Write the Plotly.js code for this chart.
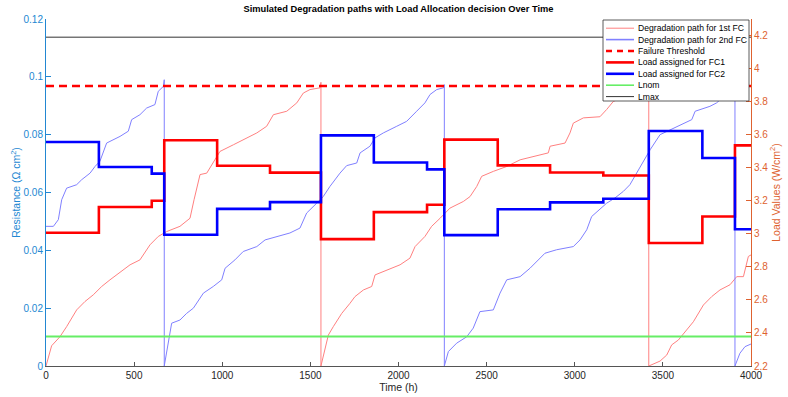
<!DOCTYPE html>
<html>
<head>
<meta charset="utf-8">
<script src="https://cdn.plot.ly/plotly-3.0.1.min.js"></script>
<style>html,body{margin:0;padding:0;background:#fff;}#chart{width:788px;height:397px;}</style>
</head>
<body>
<div id="chart"></div>
<script>
// ---- Data ----
const deg1Time = [0,32,79,117,174,221,268,316,363,401,477,533,590,637,685,760,817,840,874,912,949,987,1063,1139,1196,1252,1290,1366,1423,1460,1498,1555,1560,1560,
  1602,1630,1678,1725,1753,1801,1848,1867,1933,2009,2065,2094,2150,2188,2236,2292,2368,2406,2444,2472,2538,2614,2690,2765,2850,2860,2945,2973,2992,3049,3143,3181,3219,3280,3350,3415,3420,3420,
  3484,3522,3550,3588,3626,3673,3730,3777,3824,3881,3919,3957,3985,4000];
const deg1Value = [0,0.0070,0.0101,0.0136,0.0194,0.0223,0.0246,0.0275,0.0298,0.0315,0.0350,0.0367,0.0419,0.0448,0.0465,0.0483,0.0511,0.0575,0.0662,0.0667,0.0702,0.0742,0.0765,0.0789,0.0806,0.0829,0.0869,0.0881,0.0910,0.0944,0.0956,0.0962,0.0981,0,
  0.0107,0.0136,0.0182,0.0217,0.0240,0.0263,0.0275,0.0315,0.0332,0.0350,0.0373,0.0413,0.0448,0.0483,0.0511,0.0546,0.0569,0.0586,0.0621,0.0656,0.0673,0.0690,0.0713,0.0725,0.0737,0.0760,0.0771,0.0806,0.0840,0.0858,0.0862,0.0887,0.0915,0.0930,0.0950,0.0964,0.0982,0,
  0.0017,0.0038,0.0073,0.0090,0.0119,0.0153,0.0211,0.0240,0.0263,0.0281,0.0309,0.0309,0.0379,0.0384];

const deg2Time = [0,42,70,89,117,174,202,250,278,306,344,420,467,486,533,571,618,637,666,671,671,
  713,760,798,836,893,949,997,1016,1072,1119,1196,1243,1318,1384,1441,1479,1536,1573,1611,1668,1706,1763,1782,1838,1867,1914,1990,2046,2103,2150,2179,2217,2255,2260,2260,
  2283,2330,2387,2424,2462,2538,2576,2614,2690,2746,2784,2831,2897,2992,3030,3068,3096,3153,3181,3228,3276,3313,3371,3428,3484,3560,3664,3683,3767,3805,3860,3905,3909,3909,
  3937,3966,4000];
const deg2Value = [0.0483,0.0483,0.0506,0.0575,0.0615,0.0627,0.0644,0.0667,0.0690,0.0708,0.0771,0.0794,0.0812,0.0852,0.0869,0.0892,0.0904,0.0950,0.0967,0.0990,0,
  0.0148,0.0159,0.0182,0.0200,0.0252,0.0275,0.0298,0.0338,0.0367,0.0396,0.0413,0.0436,0.0448,0.0460,0.0477,0.0529,0.0563,0.0586,0.0621,0.0667,0.0693,0.0702,0.0737,0.0760,0.0789,0.0806,0.0829,0.0846,0.0881,0.0910,0.0939,0.0956,0.0962,0.0973,0,
  0.0050,0.0079,0.0101,0.0131,0.0188,0.0194,0.0252,0.0298,0.0309,0.0338,0.0361,0.0390,0.0402,0.0413,0.0436,0.0471,0.0517,0.0546,0.0563,0.0581,0.0604,0.0627,0.0690,0.0748,0.0800,0.0823,0.0852,0.0881,0.0898,0.0910,0.0940,0.0965,0.0980,0,
  0.0044,0.0067,0.0076];

const loadTime = [0,300,600,671,971,1271,1560,1860,2162,2260,2563,2860,3162,3420,3724,3909,4000];
const loadFC1 = [3.006,3.162,3.200,3.566,3.412,3.370,2.968,3.131,3.176,3.570,3.414,3.371,3.353,2.944,3.105,3.535,3.535];
const loadFC2 = [3.556,3.404,3.364,2.994,3.151,3.192,3.596,3.432,3.390,2.992,3.149,3.190,3.212,3.622,3.459,3.028,3.028];

const timeRange = [0, 4000];
const failureThreshold = 0.0968;
const Lnom = 2.378;
const Lmax = 4.19;

const legendLabels = ['Degradation path for 1st FC','Degradation path for 2nd FC','Failure Threshold','Load assigned for FC1','Load assigned for FC2','Lnom','Lmax'];

// ---- Styles ----
const C_DEG1 = '#ff8080', C_DEG2 = '#8080ff', C_RED = '#ff0000', C_BLUE = '#0000ff', C_GREEN = '#66ee66', C_BLACK = '#333333';
const C_LEFT = '#2287d2', C_RIGHT = '#de6230';
const FONT = 'Arial, "Liberation Sans", Helvetica, sans-serif';

const traces = [
  {x: deg1Time, y: deg1Value, type:'scatter', mode:'lines', line:{color:C_DEG1, width:1}, yaxis:'y', name:legendLabels[0]},
  {x: deg2Time, y: deg2Value, type:'scatter', mode:'lines', line:{color:C_DEG2, width:1}, yaxis:'y', name:legendLabels[1]},
  {x: timeRange, y: [failureThreshold, failureThreshold], type:'scatter', mode:'lines', line:{color:C_RED, width:2.5, dash:'8px,5px'}, yaxis:'y', name:legendLabels[2]},
  {x: loadTime, y: loadFC1, type:'scatter', mode:'lines', line:{color:C_RED, width:2.6, shape:'hv'}, yaxis:'y2', name:legendLabels[3]},
  {x: loadTime, y: loadFC2, type:'scatter', mode:'lines', line:{color:C_BLUE, width:2.6, shape:'hv'}, yaxis:'y2', name:legendLabels[4]},
  {x: timeRange, y: [Lnom, Lnom], type:'scatter', mode:'lines', line:{color:C_GREEN, width:2}, yaxis:'y2', name:legendLabels[5]},
  {x: timeRange, y: [Lmax, Lmax], type:'scatter', mode:'lines', line:{color:C_BLACK, width:1}, yaxis:'y2', name:legendLabels[6]}
];

// ---- Manual legend (MATLAB-style compact box) ----
const PL = 46, PR = 751, PT = 19, PB = 366;
const px = v => (v - PL) / (PR - PL);
const py = v => (PB - v) / (PB - PT);
const shapes = [{type:'rect', xref:'paper', yref:'paper', x0:px(603), x1:px(749), y0:py(101), y1:py(20), fillcolor:'#ffffff', line:{color:'#333', width:0.8}, layer:'above'}];
const annotations = [];
const legStyles = [
  {color:C_DEG1, width:1}, {color:C_DEG2, width:1.6}, {color:C_RED, width:2.5, dash:'6px,5px'},
  {color:C_RED, width:2.6}, {color:C_BLUE, width:2.6}, {color:C_GREEN, width:1.6}, {color:C_BLACK, width:1}
];
legendLabels.forEach((lab, i) => {
  const yy = 28.2 + i * 11.4;
  shapes.push({type:'line', xref:'paper', yref:'paper', x0:px(606), x1:px(634), y0:py(yy), y1:py(yy), line:legStyles[i], layer:'above'});
  annotations.push({xref:'paper', yref:'paper', x:px(636), y:py(yy), text:lab, showarrow:false, xanchor:'left', yanchor:'middle', font:{family:FONT, size:8.6, color:'#000'}});
});

const layout = {
  width: 788, height: 397,
  margin: {l:PL, r:788-PR, t:PT, b:397-PB, pad:0},
  paper_bgcolor:'#fff', plot_bgcolor:'#fff',
  font: {family: FONT, size: 10, color:'#262626'},
  showlegend: false,
  title: {text:'<b>Simulated Degradation paths with Load Allocation decision Over Time</b>', font:{family:FONT, size:9.3, color:'#000'}, x:0.5, xref:'paper', y:1-9/397, yref:'container', yanchor:'middle'},
  xaxis: {range: timeRange, dtick:500, tick0:0, showgrid:false, zeroline:false, showline:true, linecolor:'#555', linewidth:1,
    ticks:'inside', ticklen:4, tickcolor:'#555', tickfont:{size:10, color:'#262626'},
    title:{text:'Time (h)', font:{size:10.5, color:'#262626'}, standoff:2}},
  yaxis: {range:[0, 0.12], dtick:0.02, tick0:0, showgrid:false, zeroline:false, showline:true, linecolor:C_LEFT, linewidth:1,
    ticks:'inside', ticklen:5, tickcolor:C_LEFT, tickfont:{size:10, color:C_LEFT},
    title:{text:'Resistance (Ω cm<sup>2</sup>)', font:{size:10.5, color:C_LEFT}, standoff:0}},
  yaxis2: {range:[2.2, 4.3], dtick:0.2, tick0:2.2, overlaying:'y', side:'right', showgrid:false, zeroline:false, showline:true, linecolor:C_RIGHT, linewidth:1,
    ticks:'inside', ticklen:5, tickcolor:C_RIGHT, tickfont:{size:10, color:C_RIGHT},
    title:{text:'Load Values (W/cm<sup>2</sup>)', font:{size:10.5, color:C_RIGHT}, standoff:2}},
  shapes: shapes,
  annotations: annotations
};

Plotly.newPlot('chart', traces, layout, {displayModeBar:false, staticPlot:true});
</script>
</body>
</html>
